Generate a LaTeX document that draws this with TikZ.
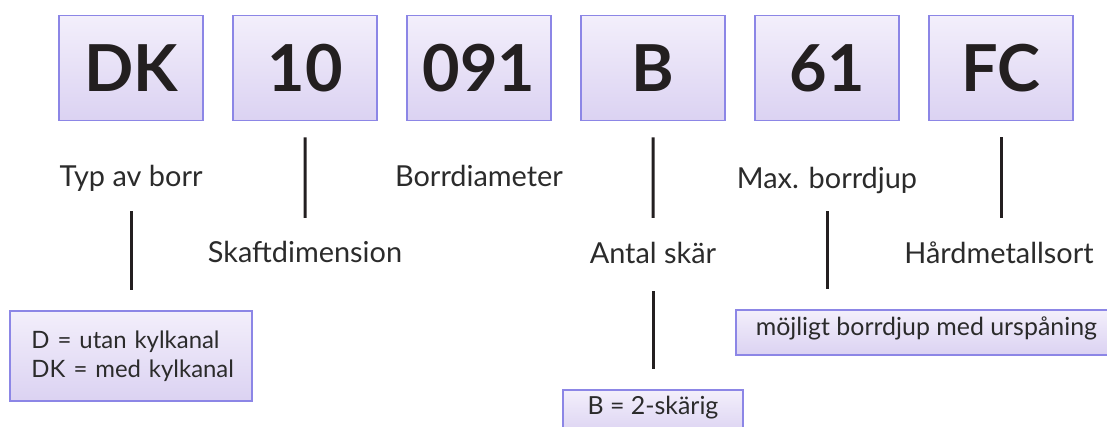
\documentclass[tikz,border=0pt]{standalone}
\usepackage{fontspec}
\setmainfont{Lato}
\usetikzlibrary{positioning}

\definecolor{boxline}{HTML}{8C86E6}
\definecolor{boxtop}{HTML}{F3EFFB}
\definecolor{boxbot}{HTML}{DBD2F2}
\definecolor{ink}{HTML}{231F20}
\definecolor{labelink}{HTML}{2B2B2B}

\tikzset{
  codebox/.style={draw=boxline, line width=1.5bp, top color=boxtop, bottom color=boxbot,
    minimum width=144bp, minimum height=105bp, inner sep=0pt,
    font=\fontsize{65}{65}\selectfont\bfseries, text=ink},
  partlabel/.style={inner sep=0pt, text height=22bp, text depth=6bp,
    font=\fontsize{29}{29}\selectfont, text=labelink},
  notebox/.style={draw=boxline, line width=1.5bp, top color=boxtop, bottom color=boxbot,
    font=\fontsize{25}{29}\selectfont, text=labelink},
  stem/.style={draw=ink, line width=3bp},
}

\begin{document}
\begin{tikzpicture}[x=1bp, y=-1bp, node distance=28.5bp]
  \useasboundingbox (0,0) rectangle (1107,426);
  \clip (0,0) rectangle (1107,426);

  % code row
  \node[codebox] (dk) at (131,68) {DK};
  \node[codebox, right=of dk] (d10) {10};
  \node[codebox, right=of d10] (d091) {091};
  \node[codebox, right=of d091] (db) {B};
  \node[codebox, right=of db] (d61) {61};
  \node[codebox, right=of d61] (fc) {FC};

  % labels
  \node[partlabel, anchor=base] (typ) at (131,186) {Typ av borr};
  \node[partlabel, anchor=base] (skaft) at (305,262) {Skaftdimension};
  \node[partlabel, anchor=base] (dia) at (479,186) {Borrdiameter};
  \node[partlabel, anchor=base] (antal) at (653,263) {Antal skär};
  \node[partlabel, anchor=base] (maxb) at (827,188) {Max. borrdjup};
  \node[partlabel, anchor=base] (hard) at (999,263) {Hårdmetallsort};

  % notes
  \node[notebox, font=\fontsize{24}{29}\selectfont, align=left, text width=207bp,
    inner xsep=17.5bp, minimum height=90bp]
    (dnote) at (131,356) {\hspace*{4bp}D = utan kylkanal\\\hspace*{4bp}DK = med kylkanal};
  \node[notebox, anchor=north, minimum width=180bp, minimum height=46bp, inner ysep=2bp,
    text height=17bp, text depth=14bp] (bnote) at (653,389) {B = 2-skärig};
  \node[notebox, anchor=west, minimum height=45bp, inner xsep=20bp, inner ysep=2bp,
    text height=17bp, text depth=12bp] (mnote) at (735,332.5) {möjligt borrdjup med urspåning};

  % stems
  \draw[stem, shorten <=19bp, shorten >=20bp] (typ.south) -- (dnote.north);
  \draw[stem, shorten <=16bp, shorten >=22bp] (d10.south) -- (skaft.north);
  \draw[stem, shorten <=16bp, shorten >=23bp] (db.south) -- (antal.north);
  \draw[stem, shorten <=22bp, shorten >=20bp] (antal.south) -- (bnote.north);
  \draw[stem, shorten <=17bp, shorten >=20bp] (maxb.south) -- (mnote.north -| maxb.south);
  \draw[stem, shorten <=16bp, shorten >=23bp] (fc.south) -- (fc.south |- hard.north);
\end{tikzpicture}
\end{document}
